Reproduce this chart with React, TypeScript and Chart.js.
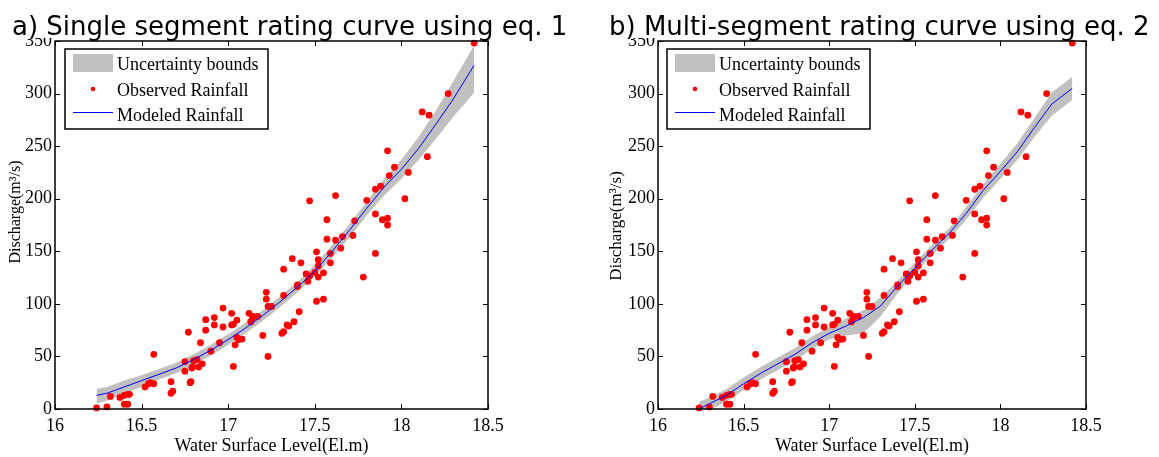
import React, { useEffect, useRef } from 'react';
import { Chart, registerables } from 'chart.js';
Chart.register(...registerables);

// ---- data ----
const xTicks = [16, 16.5, 17, 17.5, 18, 18.5];
const yTicks = [0, 50, 100, 150, 200, 250, 300, 350];

const titles = ['a) Single segment rating curve using eq. 1', 'b) Multi-segment rating curve using eq. 2'];
const legendLabels = ['Uncertainty bounds', 'Observed Rainfall', 'Modeled Rainfall'];
const xTitle = 'Water Surface Level(El.m)';
const yTitle = 'Discharge(m³/s)';

const modelX = [16.24, 16.3, 16.4, 16.5, 16.6, 16.7, 16.8, 16.9, 17.0, 17.1, 17.2, 17.3, 17.4, 17.5, 17.6, 17.7, 17.8, 17.9, 18.0, 18.1, 18.2, 18.3, 18.42];

const singleModel = [13, 15, 21, 27, 33, 39, 47, 56, 66, 77, 89, 102, 116, 131, 150, 170, 191, 211, 228, 248, 271, 295, 327];
const singleUpper = [19, 21, 27, 32, 38, 44, 52, 61, 71, 82, 94, 107, 121, 137, 156, 176, 197, 219, 237, 259, 284, 312, 346];
const singleLower = [5, 8, 15, 21, 28, 34, 42, 51, 61, 72, 84, 97, 111, 126, 144, 163, 184, 203, 219, 237, 257, 278, 301];

const multiModel = [0, 5, 13, 24, 34, 43, 52, 63, 72, 79, 87, 98, 117, 134, 151, 167, 186, 208, 226, 245, 268, 290, 305];
const multiUpper = [7, 11, 19, 30, 40, 49, 58, 69, 78, 86, 94, 106, 122, 139, 156, 172, 192, 214, 233, 253, 277, 301, 316];
const multiLower = [-6, -1, 7, 18, 28, 37, 46, 57, 66, 70, 72, 88, 110, 129, 146, 162, 180, 201, 219, 237, 259, 279, 294];

const obsX = [16.24, 16.30, 16.32, 16.375, 16.40, 16.42, 16.43, 16.40, 16.42, 16.52,
  16.54, 16.55, 16.57, 16.57, 16.67, 16.67, 16.68, 16.75, 16.75, 16.77,
  16.78, 16.785, 16.79, 16.795, 16.80, 16.82, 16.83, 16.84, 16.85, 16.87,
  16.87, 16.90, 16.92, 16.92, 16.95, 16.97, 16.97, 17.02, 17.02, 17.03,
  17.03, 17.04, 17.05, 17.05, 17.06, 17.08, 17.12, 17.13, 17.14, 17.145,
  17.17, 17.20, 17.22, 17.22, 17.23, 17.23, 17.25, 17.31, 17.32, 17.32,
  17.32, 17.34, 17.35, 17.37, 17.38, 17.40, 17.40, 17.41, 17.42, 17.45,
  17.46, 17.47, 17.50, 17.51, 17.51, 17.52, 17.52, 17.52, 17.55, 17.55,
  17.57, 17.57, 17.59, 17.59, 17.62, 17.62, 17.65, 17.66, 17.72, 17.73,
  17.47, 17.78, 17.80, 17.85, 17.85, 17.85, 17.88, 17.89, 17.92, 17.92,
  17.92, 17.93, 17.96, 18.02, 18.04, 18.12, 18.15, 18.16, 18.27, 18.42];
const obsY = [1, 2, 12, 11, 13, 14, 14, 4.5, 4.5, 21,
  24, 25, 24, 52, 26, 15, 17, 36, 45, 73,
  25, 26, 39, 40, 46, 47, 40, 63, 43, 75,
  85, 55, 80, 87, 63, 78, 96, 91, 80, 80.5,
  40.5, 61, 68, 84.5, 66, 66.5, 91, 83, 86.5, 88,
  88, 70, 111, 104.5, 50, 97.5, 97.5, 72, 73.5, 133,
  108, 80, 79, 143, 83, 118, 116.5, 92.5, 139, 128.5,
  121.5, 126.5, 130, 149.5, 102.5, 142, 125.5, 136, 129.5, 104.5,
  180, 161.5, 148, 139, 160.5, 203, 153, 164, 165, 179,
  198, 125.5, 198.5, 148, 209, 185.5, 212, 180, 181.5, 175,
  245.5, 222, 230, 200, 225, 282.5, 240, 279.5, 300, 348];

const SERIF = '"Liberation Serif", "Times New Roman", serif';
const BAND = '#c0c0c0';

type PanelProps = {
  left: number; width: number; plotLeft: number; plotRight: number;
  title: string; titleX: number; yTitleX: number; yTitleY: number; yTitleSize: number; legendX: number;
  model: number[]; upper: number[]; lower: number[];
};

function Panel(p: PanelProps) {
  const ref = useRef<HTMLCanvasElement>(null);
  useEffect(() => {
    const canvas = ref.current!;
    const H = 457;
    const top = 41;
    const bottom = 409;
    const decor = {
      id: 'decor',
      afterDraw(chart: any) {
        const { ctx, chartArea: a, scales } = chart;
        const x = scales.x, y = scales.y;
        ctx.save();
        // white-out above plot on the left (title overlaps the top label)
        ctx.fillStyle = '#fff';
        ctx.fillRect(0, 0, a.left - 1, 38);
        // box
        ctx.strokeStyle = '#000';
        ctx.lineWidth = 1.5;
        ctx.strokeRect(a.left, a.top, a.right - a.left, a.bottom - a.top);
        // inward ticks
        ctx.lineWidth = 1;
        ctx.beginPath();
        for (const v of xTicks) {
          const px = Math.round(x.getPixelForValue(v)) + 0.5;
          ctx.moveTo(px, a.bottom); ctx.lineTo(px, a.bottom - 5);
          ctx.moveTo(px, a.top); ctx.lineTo(px, a.top + 5);
        }
        for (const v of yTicks) {
          const py = Math.round(y.getPixelForValue(v)) + 0.5;
          ctx.moveTo(a.left, py); ctx.lineTo(a.left + 5, py);
          ctx.moveTo(a.right, py); ctx.lineTo(a.right - 5, py);
        }
        ctx.stroke();
        // title
        ctx.fillStyle = '#000';
        ctx.font = '26px "DejaVu Sans", sans-serif';
        ctx.textAlign = 'left';
        ctx.textBaseline = 'alphabetic';
        ctx.fillText(p.title, p.titleX, 35);
        // x title
        ctx.font = `18px ${SERIF}`;
        ctx.textAlign = 'center';
        ctx.fillText(xTitle, (a.left + a.right) / 2, 451);
        // y title
        ctx.save();
        ctx.translate(p.yTitleX, p.yTitleY);
        ctx.rotate(-Math.PI / 2);
        ctx.font = `${p.yTitleSize}px ${SERIF}`;
        ctx.textAlign = 'center';
        ctx.textBaseline = 'middle';
        ctx.fillText(yTitle, 0, 0);
        ctx.restore();
        // legend
        const lx = p.legendX, ly = 49, lw = 203, lh = 80;
        ctx.fillStyle = '#fff';
        ctx.fillRect(lx, ly, lw, lh);
        ctx.strokeStyle = '#000';
        ctx.lineWidth = 1.5;
        ctx.strokeRect(lx, ly, lw, lh);
        ctx.fillStyle = BAND;
        ctx.fillRect(lx + 8, ly + 5, 40, 18);
        ctx.fillStyle = '#ff0000';
        ctx.beginPath();
        ctx.arc(lx + 28, ly + 40, 2.3, 0, Math.PI * 2);
        ctx.fill();
        ctx.strokeStyle = '#0000ff';
        ctx.lineWidth = 1;
        ctx.beginPath();
        ctx.moveTo(lx + 8, ly + 63.5); ctx.lineTo(lx + 48, ly + 63.5);
        ctx.stroke();
        ctx.fillStyle = '#000';
        ctx.font = `18px ${SERIF}`;
        ctx.textAlign = 'left';
        ctx.textBaseline = 'middle';
        ctx.fillText(legendLabels[0], lx + 52, ly + 16);
        ctx.fillText(legendLabels[1], lx + 52, ly + 42);
        ctx.fillText(legendLabels[2], lx + 52, ly + 67);
        ctx.restore();
      },
    };
    const chart = new Chart(canvas, {
      type: 'line',
      data: {
        datasets: [
          {
            label: 'upper',
            data: modelX.map((v, i) => ({ x: v, y: p.upper[i] })),
            borderWidth: 0, pointRadius: 0, fill: '+1', backgroundColor: BAND, borderColor: BAND, order: 3,
          },
          {
            label: 'lower',
            data: modelX.map((v, i) => ({ x: v, y: p.lower[i] })),
            borderWidth: 0, pointRadius: 0, fill: false, borderColor: BAND, order: 4,
          },
          {
            label: 'obs',
            data: obsX.map((v, i) => ({ x: v, y: obsY[i] })),
            showLine: false, pointRadius: 3.4, pointBackgroundColor: '#ff0000', pointBorderWidth: 0,
            borderColor: '#ff0000', order: 2, clip: false,
          },
          {
            label: 'model',
            data: modelX.map((v, i) => ({ x: v, y: p.model[i] })),
            borderColor: '#0000ff', borderWidth: 1, pointRadius: 0, fill: false, order: 1,
          },
        ],
      },
      options: {
        responsive: false,
        animation: false,
        layout: { padding: { left: 0, top: top, right: p.width - p.plotRight, bottom: 0 } },
        plugins: { legend: { display: false }, tooltip: { enabled: false }, title: { display: false } },
        scales: {
          x: {
            type: 'linear', min: 16, max: 18.5,
            afterBuildTicks: (s: any) => { s.ticks = xTicks.map((v) => ({ value: v })); },
            grid: { display: false, drawTicks: false },
            border: { display: false },
            ticks: {
              font: { family: SERIF, size: 18 }, color: '#000', padding: 6,
              maxRotation: 0, autoSkip: false, callback: (v: any) => String(v),
            },
            afterFit: (s: any) => { s.height = H - bottom; },
          },
          y: {
            type: 'linear', min: 0, max: 350,
            afterBuildTicks: (s: any) => { s.ticks = yTicks.map((v) => ({ value: v })); },
            grid: { display: false, drawTicks: false },
            border: { display: false },
            ticks: {
              font: { family: SERIF, size: 18 }, color: '#000', padding: 3,
              autoSkip: false, callback: (v: any) => String(v),
            },
            afterFit: (s: any) => { s.width = p.plotLeft; },
          },
        },
      } as any,
      plugins: [decor],
    });
    return () => chart.destroy();
  }, []);
  return (
    <canvas
      ref={ref}
      width={p.width}
      height={457}
      style={{ position: 'absolute', left: p.left, top: 0, width: p.width, height: 457 }}
    />
  );
}

export default function App() {
  return (
    <div style={{ position: 'fixed', left: 0, top: 0, width: 1159, height: 457, background: '#fff', overflow: 'hidden' }}>
      <Panel left={0} width={580} plotLeft={55} plotRight={488} title={titles[0]} titleX={12}
        yTitleX={16} yTitleY={212} yTitleSize={16} legendX={65}
        model={singleModel} upper={singleUpper} lower={singleLower} />
      <Panel left={580} width={579} plotLeft={78} plotRight={506} title={titles[1]} titleX={29}
        yTitleX={37} yTitleY={226} yTitleSize={17} legendX={87}
        model={multiModel} upper={multiUpper} lower={multiLower} />
    </div>
  );
}
